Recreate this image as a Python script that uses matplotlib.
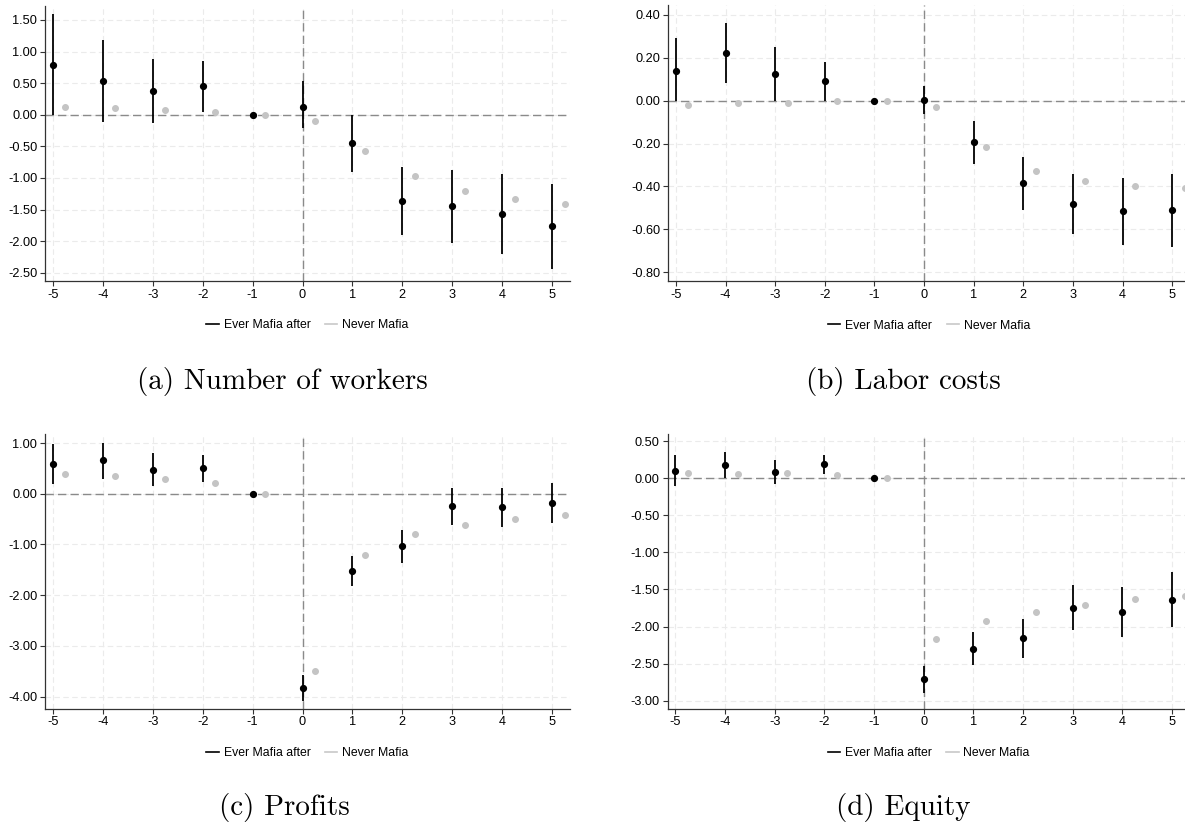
import matplotlib
matplotlib.use("Agg")
import matplotlib.pyplot as plt
from matplotlib.lines import Line2D
from matplotlib.ticker import FormatStrFormatter, MultipleLocator

years = [-5, -4, -3, -2, -1, 0, 1, 2, 3, 4, 5]

# (a) number of workers
a_coef = [0.79, 0.54, 0.38, 0.45, 0.00, 0.13, -0.44, -1.37, -1.45, -1.57, -1.76]
a_lo = [0.00, -0.12, -0.13, 0.04, 0.00, -0.21, -0.90, -1.91, -2.03, -2.21, -2.44]
a_hi = [1.59, 1.19, 0.88, 0.85, 0.00, 0.54, 0.00, -0.83, -0.87, -0.94, -1.10]
a_never = [0.12, 0.11, 0.07, 0.04, 0.00, -0.10, -0.57, -0.97, -1.20, -1.33, -1.41]

# (b) labor costs
b_coef = [0.14, 0.22, 0.126, 0.09, 0.00, 0.005, -0.195, -0.385, -0.481, -0.516, -0.511]
b_lo = [0.00, 0.08, 0.00, 0.00, 0.00, -0.064, -0.294, -0.508, -0.62, -0.673, -0.684]
b_hi = [0.29, 0.36, 0.25, 0.18, 0.00, 0.07, -0.095, -0.261, -0.343, -0.36, -0.34]
b_never = [-0.019, -0.011, -0.011, 0.00, 0.00, -0.028, -0.215, -0.329, -0.376, -0.397, -0.408]

# (c) profits
c_coef = [0.58, 0.66, 0.47, 0.505, 0.00, -3.83, -1.52, -1.03, -0.24, -0.26, -0.18]
c_lo = [0.20, 0.30, 0.16, 0.24, 0.00, -4.08, -1.82, -1.36, -0.61, -0.65, -0.58]
c_hi = [0.98, 1.01, 0.80, 0.77, 0.00, -3.58, -1.22, -0.71, 0.12, 0.12, 0.22]
c_never = [0.39, 0.35, 0.30, 0.22, 0.00, -3.49, -1.20, -0.79, -0.61, -0.49, -0.42]

# (d) equity
d_coef = [0.104, 0.176, 0.09, 0.19, 0.00, -2.71, -2.30, -2.16, -1.75, -1.80, -1.64]
d_lo = [-0.104, 0.00, -0.07, 0.06, 0.00, -2.90, -2.52, -2.42, -2.05, -2.14, -2.01]
d_hi = [0.315, 0.36, 0.25, 0.32, 0.00, -2.54, -2.07, -1.90, -1.44, -1.46, -1.27]
d_never = [0.068, 0.063, 0.068, 0.05, 0.00, -2.17, -1.92, -1.80, -1.71, -1.63, -1.59]

captions = ["(a) Number of workers", "(b) Labor costs", "(c) Profits", "(d) Equity"]
legend_labels = ["Ever Mafia after", "Never Mafia"]

plt.rcParams["font.family"] = ["Liberation Sans", "DejaVu Sans"]

W, H = 1185, 825
fig = plt.figure(figsize=(W / 100, H / 100), dpi=100)


def box(left, right, top, bottom):
    return [left / W, 1 - bottom / H, (right - left) / W, (bottom - top) / H]


def panel(rect, coef, lo, hi, never, ylim, ystep):
    ax = fig.add_axes(rect)
    ax.set_xlim(-5.16, 5.36)
    ax.set_ylim(*ylim)
    ax.yaxis.set_major_locator(MultipleLocator(ystep))
    ax.yaxis.set_major_formatter(FormatStrFormatter("%.2f"))
    ax.set_xticks(years)
    ax.xaxis.set_major_formatter(FormatStrFormatter("%d"))
    ax.grid(True, color="#ebebeb", linestyle=(0, (5, 3)), linewidth=0.8)
    ax.set_axisbelow(True)
    for s in ["top", "right"]:
        ax.spines[s].set_visible(False)
    for s in ["left", "bottom"]:
        ax.spines[s].set_color("#333333")
        ax.spines[s].set_linewidth(0.9)
    ax.tick_params(labelsize=9.2, length=3.5, width=0.8, color="#333333", pad=2)
    ax.axhline(0, color="#8a8a8a", linestyle=(0, (6, 3)), linewidth=1.0, zorder=1)
    ax.axvline(0, color="#8a8a8a", linestyle=(0, (6, 3)), linewidth=1.0, zorder=1)
    ax.vlines(years, lo, hi, color="black", linewidth=1.3, zorder=3)
    ax.plot(years, coef, "o", color="black", markersize=4.2, zorder=4)
    ax.plot([y + 0.25 for y in years], never, "o", color="#c4c4c4",
            markersize=4.0, zorder=2, clip_on=True)
    handles = [Line2D([], [], color="black", linewidth=1.2),
               Line2D([], [], color="#c8c8c8", linewidth=1.2)]
    ax.legend(handles, legend_labels, loc="upper center", bbox_to_anchor=(0.5, -0.1),
              ncol=2, frameon=False, fontsize=8.8, handlelength=1.0,
              handletextpad=0.4, columnspacing=1.2)
    return ax


panel(box(45, 570, 6, 281), a_coef, a_lo, a_hi, a_never, (-2.63, 1.72), 0.5)
panel(box(668, 1190, 5, 281), b_coef, b_lo, b_hi, b_never, (-0.84, 0.445), 0.2)
panel(box(45, 570, 434, 708.7), c_coef, c_lo, c_hi, c_never, (-4.24, 1.18), 1.0)
panel(box(667.5, 1190, 434, 708.7), d_coef, d_lo, d_hi, d_never, (-3.11, 0.60), 0.5)

cap_pos = [(282, 381), (903, 381), (284, 808), (903, 808)]
for (cx, cy), txt in zip(cap_pos, captions):
    fig.text(cx / W, 1 - cy / H, txt, ha="center", va="center",
             fontsize=21, family="cmr10")

fig.savefig("out.png", dpi=100)
